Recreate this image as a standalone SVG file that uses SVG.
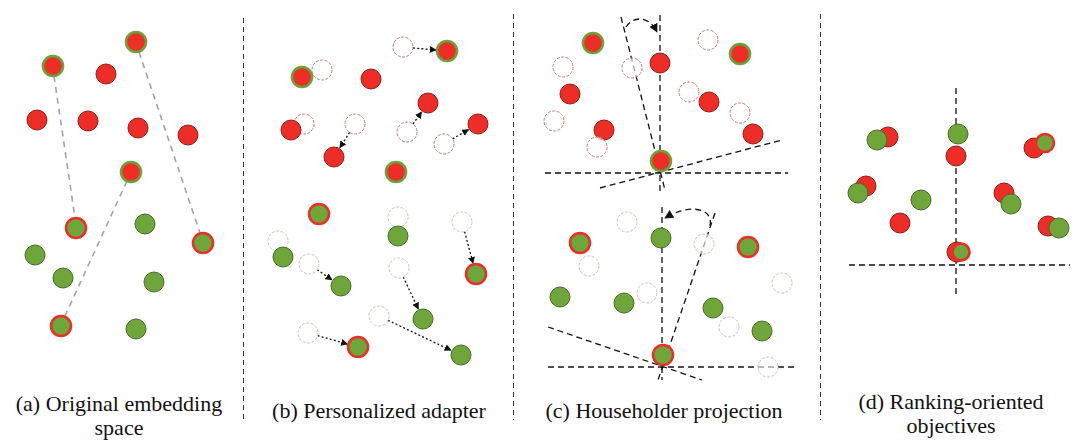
<svg xmlns="http://www.w3.org/2000/svg" width="1080" height="448" viewBox="0 0 1080 448">
<style>
.r{fill:#ee2e26;stroke:#8e1c18;stroke-width:1}
.rg{fill:#ee2e26;stroke:#6ca23a;stroke-width:2.6}
.g{fill:#6ea63a;stroke:#4a6a2c;stroke-width:1}
.gr{fill:#6ea63a;stroke:#e8302a;stroke-width:2.6}
.hr{fill:#fff;fill-opacity:0.6;stroke:#c07a7a;stroke-width:1;stroke-dasharray:3 1.5}
.hg{fill:#fff;fill-opacity:0.6;stroke:#cbc6b2;stroke-width:1;stroke-dasharray:3 1.5}
.sep{stroke:#333;stroke-width:1;stroke-dasharray:5 4;fill:none}
.gl{stroke:#a3a3a3;stroke-width:1.6;stroke-dasharray:6 5;fill:none}
.dot{stroke:#111;stroke-width:1.3;stroke-dasharray:2 2.2;fill:none}
.ax{stroke:#111;stroke-width:1.3;stroke-dasharray:6 4;fill:none}
.cap{font-family:"Liberation Serif","Times New Roman",serif;font-size:22px;fill:#111;text-anchor:middle}
</style>
<defs>
<marker id="ah" viewBox="0 0 10 10" refX="9" refY="5" markerWidth="7" markerHeight="7" markerUnits="userSpaceOnUse" orient="auto">
<path d="M0,0 L10,5 L0,10 z" fill="#111"/>
</marker>
<marker id="ah2" viewBox="0 0 10 10" refX="9" refY="5" markerWidth="9" markerHeight="9" markerUnits="userSpaceOnUse" orient="auto">
<path d="M0,0 L10,5 L0,10 z" fill="#111"/>
</marker>
</defs>
<rect width="1080" height="448" fill="#fff"/>

<g id="separators">
<line class="sep" x1="243.5" y1="18" x2="243.5" y2="420"/>
<line class="sep" x1="513.5" y1="14" x2="513.5" y2="420"/>
<line class="sep" x1="820.5" y1="14" x2="820.5" y2="420"/>
</g>

<g id="connectors">
<line class="gl" x1="54" y1="76" x2="75" y2="218"/>
<line class="gl" x1="139" y1="52" x2="200" y2="233"/>
<line class="gl" x1="127" y1="181" x2="65" y2="316"/>
<line class="dot" x1="413" y1="48" x2="436" y2="50" marker-end="url(#ah)"/>
<line class="dot" x1="413" y1="124" x2="421.5" y2="112" marker-end="url(#ah)"/>
<line class="dot" x1="452.6" y1="138.9" x2="468.5" y2="129.6" marker-end="url(#ah)"/>
<line class="dot" x1="349.6" y1="132.4" x2="339.9" y2="147.7" marker-end="url(#ah)"/>
<line class="dot" x1="464.6" y1="231.7" x2="473.1" y2="263.4" marker-end="url(#ah)"/>
<line class="dot" x1="317.2" y1="269.7" x2="331.9" y2="279.8" marker-end="url(#ah)"/>
<line class="dot" x1="403.3" y1="277" x2="418.3" y2="309" marker-end="url(#ah)"/>
<line class="dot" x1="388" y1="320.3" x2="451" y2="350.3" marker-end="url(#ah)"/>
<line class="dot" x1="317.6" y1="335.7" x2="347.4" y2="344" marker-end="url(#ah)"/>
<line class="ax" x1="660" y1="15" x2="660" y2="192"/>
<line class="ax" x1="621" y1="17" x2="665" y2="190"/>
<line class="ax" x1="545" y1="173" x2="788" y2="173"/>
<line class="ax" x1="600" y1="188" x2="782" y2="140"/>
<path class="ax" d="M626,27 C632,17 648,14 657,32" marker-end="url(#ah2)"/>
<line class="ax" x1="662" y1="207" x2="662" y2="380"/>
<line class="ax" x1="715" y1="213" x2="658" y2="380"/>
<line class="ax" x1="548" y1="367" x2="797" y2="367"/>
<line class="ax" x1="548" y1="327" x2="702" y2="380"/>
<path class="ax" d="M710,226 C714,208 690,203 665,218" marker-end="url(#ah2)"/>
<line class="ax" x1="956" y1="88" x2="956" y2="298"/>
<line class="ax" x1="849" y1="265" x2="1070" y2="265"/>
</g>

<g id="panel-a">
<g id="a1"><circle class="rg" cx="53" cy="66" r="10"/></g>
<g id="a2"><circle class="rg" cx="136" cy="42" r="10"/></g>
<g id="a3"><circle class="r" cx="106" cy="74" r="10"/></g>
<g id="a4"><circle class="r" cx="37" cy="120" r="10"/></g>
<g id="a5"><circle class="r" cx="88" cy="121" r="10"/></g>
<g id="a6"><circle class="r" cx="138" cy="128" r="10"/></g>
<g id="a7"><circle class="r" cx="188" cy="135" r="10"/></g>
<g id="a8"><circle class="rg" cx="131" cy="172" r="10"/></g>
<g id="a9"><circle class="gr" cx="76" cy="228" r="10"/></g>
<g id="a10"><circle class="g" cx="145" cy="224" r="10"/></g>
<g id="a11"><circle class="gr" cx="203" cy="243" r="10"/></g>
<g id="a12"><circle class="g" cx="35" cy="255" r="10"/></g>
<g id="a13"><circle class="g" cx="63" cy="278" r="10"/></g>
<g id="a14"><circle class="g" cx="154" cy="282" r="10"/></g>
<g id="a15"><circle class="gr" cx="61" cy="326" r="10"/></g>
<g id="a16"><circle class="g" cx="136" cy="329" r="10"/></g>
</g>

<g id="panel-b">
<g id="b1"><circle class="hr" cx="403" cy="47" r="10"/></g>
<g id="b2"><circle class="rg" cx="447" cy="51" r="10"/></g>
<g id="b3"><circle class="hr" cx="322" cy="70" r="10"/></g>
<g id="b4"><circle class="rg" cx="302" cy="77" r="10"/></g>
<g id="b5"><circle class="r" cx="371" cy="79" r="10"/></g>
<g id="b6"><circle class="r" cx="428" cy="103" r="10"/></g>
<g id="b7"><circle class="hr" cx="407" cy="132" r="10"/></g>
<g id="b8"><circle class="r" cx="478" cy="124" r="10"/></g>
<g id="b9"><circle class="hr" cx="444" cy="144" r="10"/></g>
<g id="b10"><circle class="hr" cx="304" cy="124" r="10"/></g>
<g id="b11"><circle class="r" cx="291" cy="130" r="10"/></g>
<g id="b12"><circle class="hr" cx="355" cy="124" r="10"/></g>
<g id="b13"><circle class="r" cx="334" cy="157" r="10"/></g>
<g id="b14"><circle class="rg" cx="396" cy="172" r="10"/></g>
<g id="b15"><circle class="gr" cx="319" cy="214" r="10"/></g>
<g id="b16"><circle class="hg" cx="398" cy="217" r="10"/></g>
<g id="b17"><circle class="g" cx="398" cy="236" r="10"/></g>
<g id="b18"><circle class="hg" cx="462" cy="222" r="10"/></g>
<g id="b19"><circle class="gr" cx="476" cy="274" r="10"/></g>
<g id="b20"><circle class="hg" cx="278" cy="241" r="10"/></g>
<g id="b21"><circle class="g" cx="283" cy="257" r="10"/></g>
<g id="b22"><circle class="hg" cx="309" cy="264" r="10"/></g>
<g id="b23"><circle class="g" cx="341" cy="286" r="10"/></g>
<g id="b24"><circle class="hg" cx="399" cy="268" r="10"/></g>
<g id="b25"><circle class="g" cx="423" cy="319" r="10"/></g>
<g id="b26"><circle class="hg" cx="379" cy="316" r="10"/></g>
<g id="b27"><circle class="g" cx="461" cy="355" r="10"/></g>
<g id="b28"><circle class="hg" cx="308" cy="333" r="10"/></g>
<g id="b29"><circle class="gr" cx="358" cy="347" r="10"/></g>
</g>

<g id="panel-c">
<g id="c1"><circle class="rg" cx="593" cy="43" r="10"/></g>
<g id="c2"><circle class="hr" cx="563" cy="67" r="10"/></g>
<g id="c3"><circle class="hr" cx="632" cy="68" r="10"/></g>
<g id="c4"><circle class="r" cx="660" cy="63" r="10"/></g>
<g id="c5"><circle class="hr" cx="708" cy="40" r="10"/></g>
<g id="c6"><circle class="rg" cx="740" cy="54" r="10"/></g>
<g id="c7"><circle class="r" cx="570" cy="94" r="10"/></g>
<g id="c8"><circle class="hr" cx="689" cy="92" r="10"/></g>
<g id="c9"><circle class="r" cx="709" cy="102" r="10"/></g>
<g id="c10"><circle class="hr" cx="740" cy="113" r="10"/></g>
<g id="c11"><circle class="hr" cx="554" cy="121" r="10"/></g>
<g id="c12"><circle class="r" cx="604" cy="130" r="10"/></g>
<g id="c13"><circle class="hr" cx="597" cy="147" r="10"/></g>
<g id="c14"><circle class="r" cx="753" cy="134" r="10"/></g>
<g id="c15"><circle class="rg" cx="661" cy="161" r="10"/></g>
<g id="c16"><circle class="hg" cx="627" cy="222" r="10"/></g>
<g id="c17"><circle class="g" cx="661" cy="238" r="10"/></g>
<g id="c18"><circle class="hg" cx="704" cy="244" r="10"/></g>
<g id="c19"><circle class="gr" cx="580" cy="243" r="10"/></g>
<g id="c20"><circle class="hg" cx="589" cy="266" r="10"/></g>
<g id="c21"><circle class="gr" cx="748" cy="247" r="10"/></g>
<g id="c22"><circle class="hg" cx="782" cy="283" r="10"/></g>
<g id="c23"><circle class="g" cx="560" cy="297" r="10"/></g>
<g id="c24"><circle class="hg" cx="647" cy="293" r="10"/></g>
<g id="c25"><circle class="g" cx="624" cy="303" r="10"/></g>
<g id="c26"><circle class="g" cx="713" cy="308" r="10"/></g>
<g id="c27"><circle class="hg" cx="729" cy="327" r="10"/></g>
<g id="c28"><circle class="g" cx="762" cy="331" r="10"/></g>
<g id="c29"><circle class="gr" cx="663" cy="355" r="10"/></g>
<g id="c30"><circle class="hg" cx="768" cy="367" r="10"/></g>
</g>

<g id="panel-d">
<g id="d1"><circle class="r" cx="888" cy="137" r="10"/><circle class="g" cx="877" cy="140" r="10"/></g>
<g id="d2"><circle class="g" cx="958" cy="134" r="10"/><circle class="r" cx="956" cy="156" r="10"/></g>
<g id="d3"><circle class="r" cx="1034" cy="148" r="10"/><circle class="gr" cx="1045" cy="143" r="9"/></g>
<g id="d4"><circle class="r" cx="866" cy="186" r="10"/><circle class="g" cx="858" cy="193" r="10"/></g>
<g id="d5"><circle class="g" cx="921" cy="200" r="10"/></g>
<g id="d6"><circle class="r" cx="1004" cy="193" r="10"/><circle class="g" cx="1011" cy="204" r="10"/></g>
<g id="d7"><circle class="r" cx="900" cy="223" r="10"/></g>
<g id="d8"><circle class="r" cx="1048" cy="226" r="10"/><circle class="g" cx="1059" cy="228" r="10"/></g>
<g id="d9"><circle class="r" cx="957" cy="252" r="10"/><circle class="gr" cx="961" cy="252" r="8.5"/></g>
</g>

<g id="captions">
<text class="cap" x="119" y="411">(a) Original embedding</text>
<text class="cap" x="119" y="435">space</text>
<text class="cap" x="379" y="418">(b) Personalized adapter</text>
<text class="cap" x="664" y="418">(c) Householder projection</text>
<text class="cap" x="951" y="409">(d) Ranking-oriented</text>
<text class="cap" x="951" y="433">objectives</text>
</g>
</svg>
